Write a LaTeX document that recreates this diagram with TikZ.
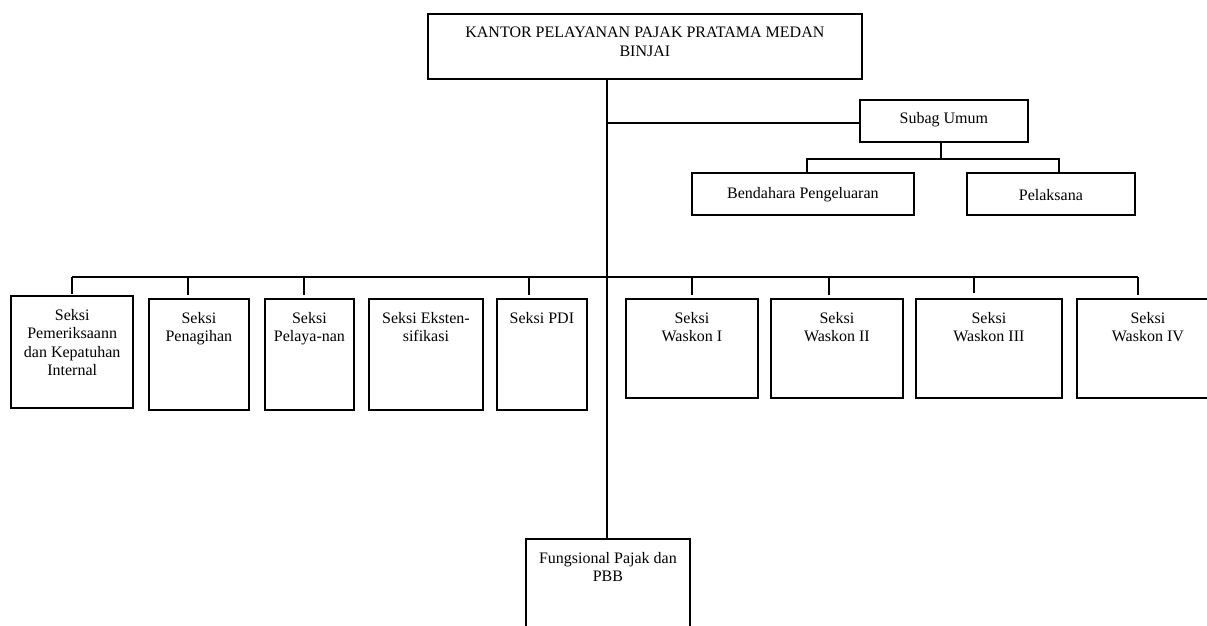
\documentclass[tikz,border=0pt]{standalone}
\usepackage{fontspec}
\setmainfont{Liberation Serif}
\begin{document}
\begin{tikzpicture}[x=1pt,y=-1pt,
  every node/.style={font=\fontsize{16}{18.4}\selectfont},
  orgbox/.style={draw, line width=1.8pt, rectangle, inner sep=0pt, anchor=north west},
  boxtext/.style={anchor=north, inner sep=0pt, align=center, yshift=-14pt},
  conn/.style={line width=1.8pt}]
\clip (0,0) rectangle (1207,626);
\fill[white] (0,0) rectangle (1207,626);
% boxes
\node[orgbox, minimum width=434pt, minimum height=65pt] (top) at (427,13) {};
\node[orgbox, minimum width=168pt, minimum height=42pt] (subag) at (859,99) {};
\node[orgbox, minimum width=222pt, minimum height=42pt] (bend) at (691,172) {};
\node[orgbox, minimum width=168pt, minimum height=42pt] (pel) at (966,172) {};
\node[orgbox, line width=2.4pt, minimum width=122pt, minimum height=112pt] (b1) at (10,295) {};
\node[orgbox, minimum width=100pt, minimum height=111pt] (b2) at (148,298) {};
\node[orgbox, minimum width=89pt, minimum height=111pt] (b3) at (264,298) {};
\node[orgbox, minimum width=114pt, minimum height=111pt] (b4) at (368,298) {};
\node[orgbox, minimum width=90pt, minimum height=111pt] (b5) at (496,298) {};
\node[orgbox, minimum width=132pt, minimum height=99pt] (w1) at (625,298) {};
\node[orgbox, minimum width=132pt, minimum height=99pt] (w2) at (770,298) {};
\node[orgbox, minimum width=146pt, minimum height=99pt] (w3) at (915,298) {};
\node[orgbox, minimum width=142pt, minimum height=99pt] (w4) at (1076,298) {};
\node[orgbox, minimum width=164pt, minimum height=122pt] (fung) at (525,538) {};
% texts
\node[boxtext] (ttop) at (top.north) {KANTOR PELAYANAN PAJAK PRATAMA MEDAN\\BINJAI};
\node[inner sep=0pt, yshift=1pt] (tsubag) at (subag.center) {Subag Umum};
\node[inner sep=0pt, yshift=-1pt] (tbend) at (bend.center) {Bendahara Pengeluaran};
\node[inner sep=0pt, yshift=-1pt] (tpel) at (pel.center) {Pelaksana};
\node[boxtext] (tb1) at (b1.north) {Seksi\\Pemeriksaann\\dan Kepatuhan\\Internal};
\node[boxtext] (tb2) at (b2.north) {Seksi\\Penagihan};
\node[boxtext] (tb3) at (b3.north) {Seksi\\Pelaya-nan};
\node[boxtext] (tb4) at (b4.north) {Seksi Eksten-\\sifikasi};
\node[boxtext] (tb5) at (b5.north) {Seksi PDI};
\node[boxtext] (tw1) at (w1.north) {Seksi\\Waskon I};
\node[boxtext] (tw2) at (w2.north) {Seksi\\Waskon II};
\node[boxtext] (tw3) at (w3.north) {Seksi\\Waskon III};
\node[boxtext] (tw4) at (w4.north) {Seksi\\Waskon IV};
\node[boxtext] (tfung) at (fung.north) {Fungsional Pajak dan\\PBB};
% connectors
\coordinate (bus) at (607,277);
\coordinate (sub) at (607,123);
\draw[conn] (top.south -| bus) -- (fung.north -| bus);
\draw[conn] (sub) -- (sub -| subag.west);
\draw[conn] ([xshift=-3pt]subag.south) -- ++(0,16) coordinate (sj);
\draw[conn] ([xshift=4pt]bend.north) |- (sj) -| ([xshift=8pt]pel.north);
\draw[conn] (b1.north |- bus) -- ([xshift=-10pt]w4.north |- bus);
\draw[conn] (b1.north |- bus) -- ([yshift=1pt]b1.north);
\draw[conn] ([xshift=-11pt]b2.north |- bus) -- ([xshift=-11pt,yshift=3pt]b2.north);
\draw[conn] ([xshift=-5.5pt]b3.north |- bus) -- ([xshift=-5.5pt,yshift=3pt]b3.north);
\draw[conn] ([xshift=-13pt]b5.north |- bus) -- ([xshift=-13pt,yshift=3pt]b5.north);
\draw[conn] (w1.north |- bus) -- ([yshift=3pt]w1.north);
\draw[conn] ([xshift=-8pt]w2.north |- bus) -- ([xshift=-8pt,yshift=3pt]w2.north);
\draw[conn] ([xshift=-15pt]w3.north |- bus) -- ([xshift=-15pt,yshift=5pt]w3.north);
\draw[conn] ([xshift=-10pt]w4.north |- bus) -- ([xshift=-10pt,yshift=3pt]w4.north);
\end{tikzpicture}
\end{document}
